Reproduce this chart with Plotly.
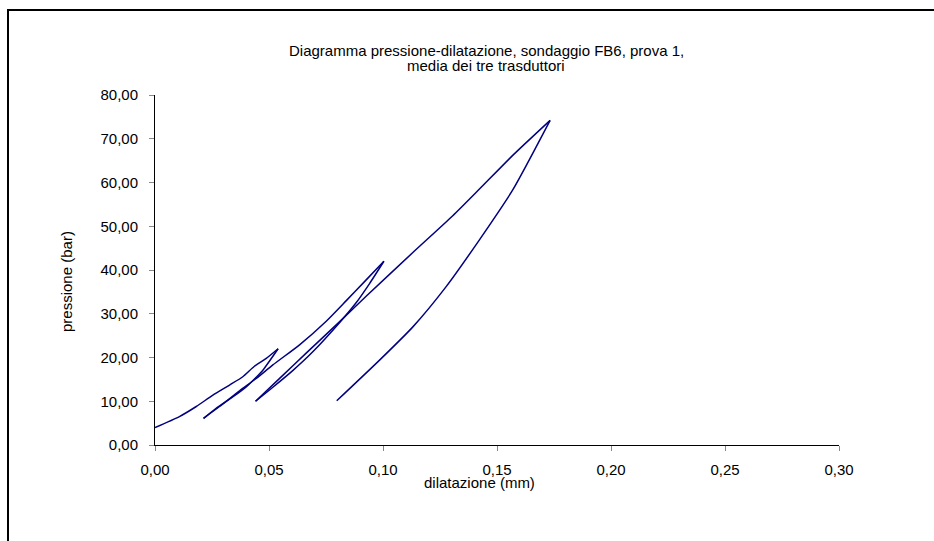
import plotly.graph_objects as go

# Pressure (bar) vs. dilatation (mm), averaged over three transducers.
# Each branch of the loading / unloading cycles is kept as its own series.
load_1_x = [0.0, 0.0107, 0.0181, 0.0254, 0.0327, 0.0385, 0.0436, 0.0488, 0.054]
load_1_y = [4.0, 6.5, 8.8, 11.4, 13.7, 15.6, 18.0, 19.8, 22.0]

unload_1_x = [0.054, 0.0473, 0.0444, 0.040, 0.0341, 0.0268, 0.0213]
unload_1_y = [22.0, 17.1, 15.5, 13.3, 11.0, 8.4, 6.1]

load_2_x = [0.0213, 0.0283, 0.0371, 0.0444, 0.0517, 0.0634, 0.0751, 0.0839, 0.092, 0.1004]
load_2_y = [6.1, 8.8, 12.4, 15.2, 18.3, 22.9, 28.3, 33.0, 37.4, 42.0]

unload_2_x = [0.1004, 0.0941, 0.0882, 0.081, 0.0692, 0.0604, 0.0517, 0.0441]
unload_2_y = [42.0, 36.9, 32.5, 28.0, 21.3, 17.0, 13.2, 10.0]

load_3_x = [0.0441, 0.055, 0.0663, 0.081, 0.0926, 0.1131, 0.1306, 0.1423, 0.1569, 0.1733]
load_3_y = [10.0, 15.4, 21.0, 28.2, 34.0, 44.0, 52.4, 58.5, 66.2, 74.2]

unload_3_x = [0.1733, 0.1569, 0.1423, 0.1277, 0.1131, 0.0985, 0.0797]
unload_3_y = [74.2, 58.3, 46.9, 36.2, 27.0, 19.4, 10.1]

x_ticks = [0.0, 0.05, 0.10, 0.15, 0.20, 0.25, 0.30]
y_ticks = [0, 10, 20, 30, 40, 50, 60, 70, 80]

branches = [
    (load_1_x, load_1_y),
    (unload_1_x, unload_1_y),
    (load_2_x, load_2_y),
    (unload_2_x, unload_2_y),
    (load_3_x, load_3_y),
    (unload_3_x, unload_3_y),
]

FONT = "Liberation Sans, Arial, sans-serif"
LINE_COLOR = "#000080"

fig = go.Figure()
for bx, by in branches:
    fig.add_trace(go.Scatter(
        x=bx, y=by, mode="lines",
        line=dict(color=LINE_COLOR, width=1.5, shape="spline", smoothing=0.6),
        showlegend=False, hoverinfo="x+y",
    ))

axis_common = dict(
    showgrid=False, zeroline=False,
    showline=True, linecolor="black", linewidth=1,
    ticks="outside", ticklen=5, tickcolor="#888888", tickwidth=1,
    tickfont=dict(family=FONT, size=15, color="black"),
    tickformat=".2f",
)

fig.update_xaxes(range=[0, 0.30], tickvals=x_ticks, ticklabelstandoff=6, **axis_common)
fig.update_yaxes(range=[0, 80], tickvals=y_ticks, ticklabelstandoff=8, **axis_common)

L, R, T, B = 155, 95, 95, 96
W, H = 934, 541
pw, ph = W - L - R, H - T - B


def px(x):
    return (x - L) / pw


def py(y):
    return (H - B - y) / ph


annotations = [
    dict(text="Diagramma pressione-dilatazione, sondaggio FB6, prova 1,",
         x=px(486), y=py(50)),
    dict(text="media dei tre trasduttori", x=px(486), y=py(66)),
    dict(text="dilatazione (mm)", x=px(479), y=py(482)),
    dict(text="pressione (bar)", x=px(66), y=py(282), textangle=-90),
]
for a in annotations:
    a.update(xref="paper", yref="paper", xanchor="center", yanchor="middle",
             showarrow=False, font=dict(family=FONT, size=15, color="black"))

fig.update_layout(
    width=W, height=H,
    margin=dict(l=L, r=R, t=T, b=B),
    paper_bgcolor="white", plot_bgcolor="white",
    separators=",.",
    annotations=annotations,
    shapes=[dict(
        type="rect", xref="paper", yref="paper",
        x0=px(8), x1=px(960), y0=py(580), y1=py(10),
        line=dict(color="black", width=2), fillcolor="rgba(0,0,0,0)",
        layer="above",
    )],
)

fig.write_html("out.html")
